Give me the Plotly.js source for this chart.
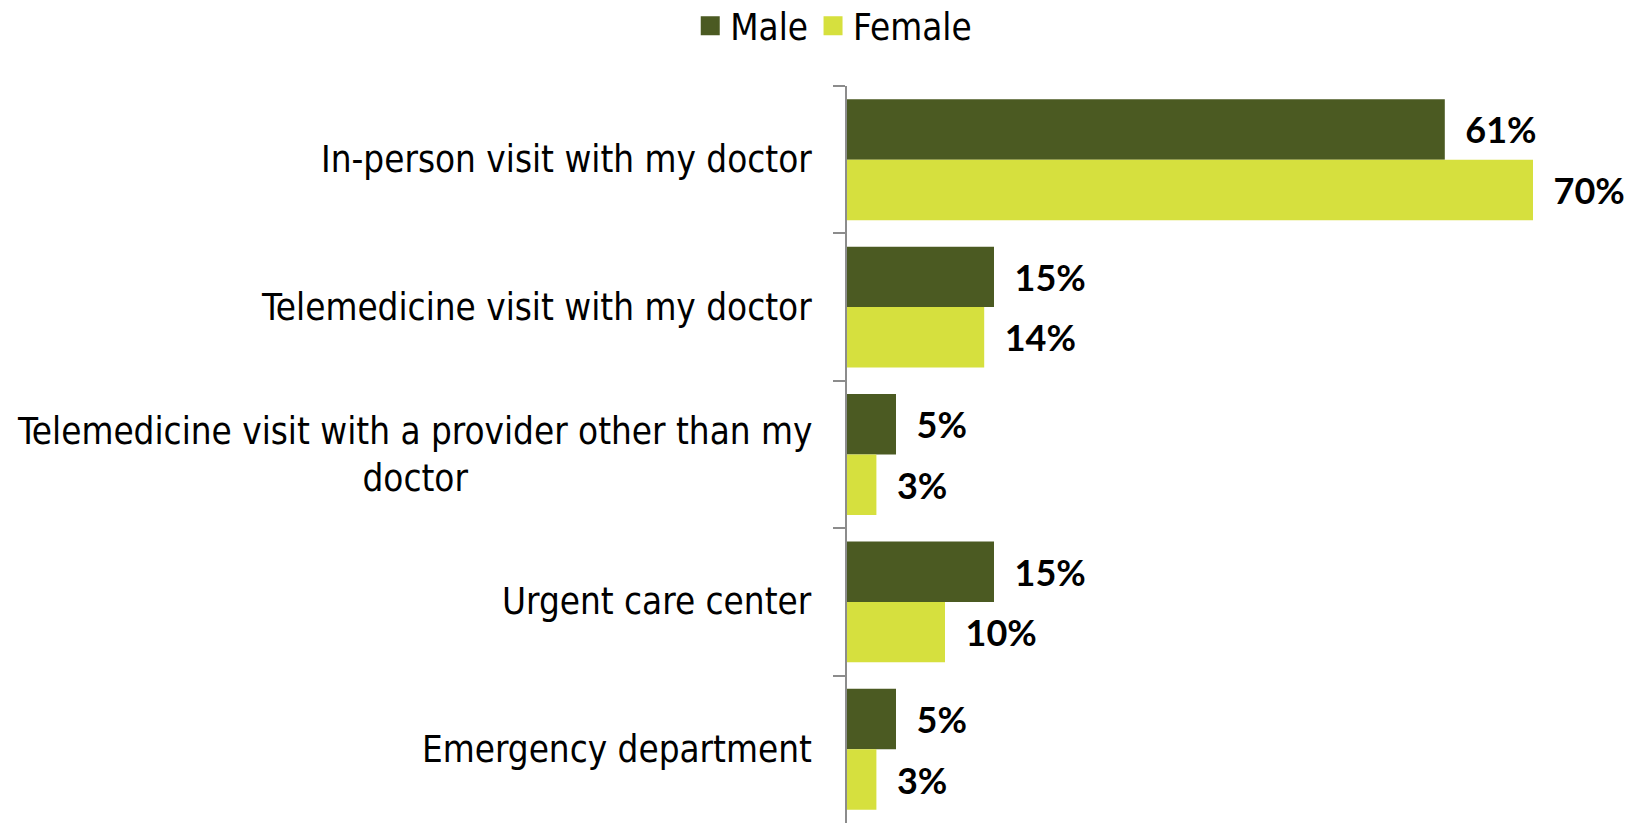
<!DOCTYPE html>
<html>
<head>
<meta charset="utf-8">
<script src="https://cdn.plot.ly/plotly-3.0.1.min.js"></script>
<style>
    html, body { margin: 0; padding: 0; background: #ffffff; }
    #chart { width: 1638px; height: 823px; }
</style>
</head>
<body>
<div id="chart"></div>
<script>
// categories top to bottom, values in percent
const categories = [
    'In-person visit with my doctor',
    'Telemedicine visit with my doctor',
    'Telemedicine visit with a provider other than my<br>doctor',
    'Urgent care center',
    'Emergency department'
];
const seriesNames = ['Male', 'Female'];
const maleValues = [61, 15, 5, 15, 5];
const femaleValues = [70, 14, 3, 10, 3];

const MALE = '#4b5a22';
const FEMALE = '#d6e03e';
const LABEL_FONT = "'DejaVu Sans Condensed', 'DejaVu Sans', sans-serif";

function makeTrace(name, values, color) {
    return {
        type: 'bar',
        orientation: 'h',
        name: name,
        legendgroup: name,
        showlegend: false,
        y: categories,
        x: values,
        marker: { color: color },
        text: values.map(v => '\u00a0\u00a0' + v + '%'),
        textposition: 'outside',
        cliponaxis: false,
        textfont: { family: 'Lato, sans-serif', size: 36, color: '#000000', weight: 'bold' },
        hoverinfo: 'x+y'
    };
}

// legend-only entries so the key squares can be bigger than the bar default
function legendKey(name, color) {
    return {
        type: 'scatter',
        mode: 'markers',
        name: name,
        legendgroup: name,
        x: [null], y: [null],
        marker: { symbol: 'square', size: 16, color: color, line: { width: 3, color: color } },
        hoverinfo: 'skip'
    };
}

const traces = [
    makeTrace(seriesNames[0], maleValues, MALE),
    makeTrace(seriesNames[1], femaleValues, FEMALE),
    legendKey(seriesNames[0], MALE),
    legendKey(seriesNames[1], FEMALE)
];

// category labels, centered multi-line, right edge next to the axis
const labelAnnotations = categories.map(c => ({
    xref: 'paper', yref: 'y',
    x: 0, y: c,
    xanchor: 'right', yanchor: 'middle',
    xshift: -33,
    align: 'center',
    text: c,
    showarrow: false,
    font: { family: LABEL_FONT, size: 36.5, color: '#000000' }
}));

const layout = {
    width: 1638,
    height: 823,
    margin: { l: 847, r: 7, t: 86, b: 0 },
    paper_bgcolor: '#ffffff',
    plot_bgcolor: '#ffffff',
    barmode: 'group',
    bargap: 0.18,
    bargroupgap: 0,
    showlegend: true,
    legend: {
        orientation: 'h',
        xref: 'container', yref: 'container',
        x: 0.509, xanchor: 'center',
        y: 0.9684, yanchor: 'middle',
        font: { family: LABEL_FONT, size: 36.5, color: '#000000' },
        itemwidth: 30,
        itemsizing: 'trace',
        traceorder: 'normal'
    },
    xaxis: {
        range: [0, 80],
        showgrid: false,
        zeroline: false,
        showline: false,
        showticklabels: false,
        ticks: ''
    },
    yaxis: {
        autorange: 'reversed',
        showgrid: false,
        zeroline: false,
        showline: true,
        linecolor: '#8c8c8c',
        linewidth: 2,
        ticks: 'outside',
        tickson: 'boundaries',
        ticklen: 12,
        tickwidth: 2,
        tickcolor: '#8c8c8c',
        showticklabels: false
    },
    annotations: labelAnnotations
};

Plotly.newPlot('chart', traces, layout, { displayModeBar: false, staticPlot: true });
</script>
</body>
</html>
